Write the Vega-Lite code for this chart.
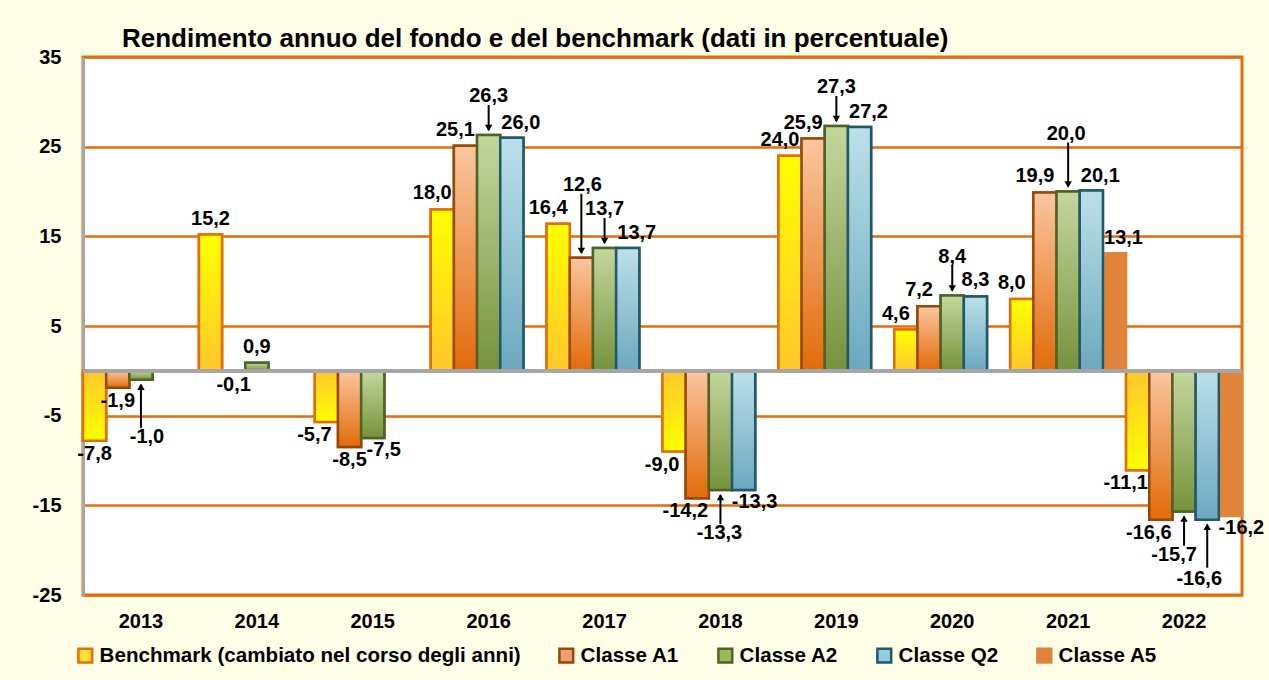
{
  "$schema": "https://vega.github.io/schema/vega-lite/v6.json",
  "width": 1159,
  "height": 538,
  "autosize": "none",
  "padding": {"left": 83, "top": 57, "right": 27, "bottom": 85},
  "background": "#FFFEE6",
  "config": {
    "font": "Liberation Sans",
    "view": {"stroke": "#E46C0A", "strokeWidth": 3, "fill": "white"},
    "locale": {"number": {"decimal": ",", "thousands": ".", "grouping": [3], "currency": ["€", ""], "minus": "-"}}
  },
  "title": {"text": "Rendimento annuo del fondo e del benchmark (dati in percentuale)", "anchor": "start", "frame": "group", "dx": 39, "offset": -5, "fontSize": 26, "fontWeight": "bold", "color": "black", "font": "Liberation Sans"},
  "data": {"values": [
    {"anno": "2013", "serie": "Benchmark (cambiato nel corso degli anni)", "valore": -7.8},
    {"anno": "2013", "serie": "Classe A1", "valore": -1.9},
    {"anno": "2013", "serie": "Classe A2", "valore": -1.0},
    {"anno": "2014", "serie": "Benchmark (cambiato nel corso degli anni)", "valore": 15.2},
    {"anno": "2014", "serie": "Classe A1", "valore": -0.1},
    {"anno": "2014", "serie": "Classe A2", "valore": 0.9},
    {"anno": "2015", "serie": "Benchmark (cambiato nel corso degli anni)", "valore": -5.7},
    {"anno": "2015", "serie": "Classe A1", "valore": -8.5},
    {"anno": "2015", "serie": "Classe A2", "valore": -7.5},
    {"anno": "2016", "serie": "Benchmark (cambiato nel corso degli anni)", "valore": 18.0},
    {"anno": "2016", "serie": "Classe A1", "valore": 25.1},
    {"anno": "2016", "serie": "Classe A2", "valore": 26.3},
    {"anno": "2016", "serie": "Classe Q2", "valore": 26.0},
    {"anno": "2017", "serie": "Benchmark (cambiato nel corso degli anni)", "valore": 16.4},
    {"anno": "2017", "serie": "Classe A1", "valore": 12.6},
    {"anno": "2017", "serie": "Classe A2", "valore": 13.7},
    {"anno": "2017", "serie": "Classe Q2", "valore": 13.7},
    {"anno": "2018", "serie": "Benchmark (cambiato nel corso degli anni)", "valore": -9.0},
    {"anno": "2018", "serie": "Classe A1", "valore": -14.2},
    {"anno": "2018", "serie": "Classe A2", "valore": -13.3},
    {"anno": "2018", "serie": "Classe Q2", "valore": -13.3},
    {"anno": "2019", "serie": "Benchmark (cambiato nel corso degli anni)", "valore": 24.0},
    {"anno": "2019", "serie": "Classe A1", "valore": 25.9},
    {"anno": "2019", "serie": "Classe A2", "valore": 27.3},
    {"anno": "2019", "serie": "Classe Q2", "valore": 27.2},
    {"anno": "2020", "serie": "Benchmark (cambiato nel corso degli anni)", "valore": 4.6},
    {"anno": "2020", "serie": "Classe A1", "valore": 7.2},
    {"anno": "2020", "serie": "Classe A2", "valore": 8.4},
    {"anno": "2020", "serie": "Classe Q2", "valore": 8.3},
    {"anno": "2021", "serie": "Benchmark (cambiato nel corso degli anni)", "valore": 8.0},
    {"anno": "2021", "serie": "Classe A1", "valore": 19.9},
    {"anno": "2021", "serie": "Classe A2", "valore": 20.0},
    {"anno": "2021", "serie": "Classe Q2", "valore": 20.1},
    {"anno": "2021", "serie": "Classe A5", "valore": 13.1},
    {"anno": "2022", "serie": "Benchmark (cambiato nel corso degli anni)", "valore": -11.1},
    {"anno": "2022", "serie": "Classe A1", "valore": -16.6},
    {"anno": "2022", "serie": "Classe A2", "valore": -15.7},
    {"anno": "2022", "serie": "Classe Q2", "valore": -16.6},
    {"anno": "2022", "serie": "Classe A5", "valore": -16.2}
  ]},
  "layer": [
    {
      "encoding": {
        "x": {"field": "anno", "type": "nominal", "title": null, "scale": {"paddingInner": 0, "paddingOuter": 0}, "axis": {"labelAngle": 0, "domain": false, "ticks": false, "grid": false, "labelPadding": 16, "labelFontSize": 20, "labelFontWeight": "bold", "labelColor": "black"}},
        "xOffset": {"field": "serie", "type": "nominal", "scale": {"domain": ["Benchmark (cambiato nel corso degli anni)", "Classe A1", "Classe A2", "Classe Q2", "Classe A5"], "paddingInner": 0, "paddingOuter": 0}},
        "y": {"field": "valore", "type": "quantitative", "title": null, "scale": {"domain": [-25, 35], "nice": false, "zero": false}, "axis": {"values": [-25, -15, -5, 5, 15, 25, 35], "grid": true, "gridColor": "#E46C0A", "gridWidth": 2.5, "ticks": false, "domainColor": "#A6A6A6", "domainWidth": 3, "labelPadding": 22, "labelFontSize": 20, "labelFontWeight": "bold", "labelColor": "black"}}
      },
      "layer": [
        {
          "mark": {"type": "bar", "strokeWidth": 2.5},
          "encoding": {
            "fill": {"field": "serie", "type": "nominal", "scale": {"domain": ["Benchmark (cambiato nel corso degli anni)", "Classe A1", "Classe A2", "Classe Q2", "Classe A5"], "range": ["#FFE033", "#F0A070", "#9BBB59", "#93CDDD", "#E0843C"]}, "legend": {"orient": "none", "legendX": -8, "legendY": 588, "direction": "horizontal", "title": null, "labelFontSize": 20.6, "labelFontWeight": "bold", "labelColor": "black", "labelLimit": 600, "symbolType": "square", "symbolSize": 190, "symbolStrokeWidth": 2.5, "columnPadding": 33, "labelOffset": 4, "padding": 0}},
            "stroke": {"field": "serie", "type": "nominal", "scale": {"domain": ["Benchmark (cambiato nel corso degli anni)", "Classe A1", "Classe A2", "Classe Q2", "Classe A5"], "range": ["#E46C0A", "#984807", "#4F6228", "#215968", "#E0843C"]}}
          }
        },
        {
          "transform": [{"filter": "datum.serie == 'Benchmark (cambiato nel corso degli anni)' && datum.valore >= 0"}],
          "mark": {"type": "bar", "strokeWidth": 2.5, "stroke": "#E46C0A", "fill": {"gradient": "linear", "x1": 0, "y1": 0, "x2": 0, "y2": 1, "stops": [{"offset": 0, "color": "#FFFF00"}, {"offset": 1, "color": "#FFC72C"}]}}
        },
        {
          "transform": [{"filter": "datum.serie == 'Benchmark (cambiato nel corso degli anni)' && datum.valore < 0"}],
          "mark": {"type": "bar", "strokeWidth": 2.5, "stroke": "#E46C0A", "fill": {"gradient": "linear", "x1": 0, "y1": 0, "x2": 0, "y2": 1, "stops": [{"offset": 0, "color": "#FFC72C"}, {"offset": 1, "color": "#FFFF00"}]}}
        },
        {
          "transform": [{"filter": "datum.serie == 'Classe A1'"}],
          "mark": {"type": "bar", "strokeWidth": 2.5, "stroke": "#984807", "fill": {"gradient": "linear", "x1": 0, "y1": 0, "x2": 0, "y2": 1, "stops": [{"offset": 0, "color": "#FAC6A0"}, {"offset": 1, "color": "#E26B0A"}]}}
        },
        {
          "transform": [{"filter": "datum.serie == 'Classe A2'"}],
          "mark": {"type": "bar", "strokeWidth": 2.5, "stroke": "#4F6228", "fill": {"gradient": "linear", "x1": 0, "y1": 0, "x2": 0, "y2": 1, "stops": [{"offset": 0, "color": "#C4D79E"}, {"offset": 1, "color": "#76923C"}]}}
        },
        {
          "transform": [{"filter": "datum.serie == 'Classe Q2'"}],
          "mark": {"type": "bar", "strokeWidth": 2.5, "stroke": "#215968", "fill": {"gradient": "linear", "x1": 0, "y1": 0, "x2": 0, "y2": 1, "stops": [{"offset": 0, "color": "#BCE0EA"}, {"offset": 1, "color": "#6CA8BF"}]}}
        }
      ]
    },
    {
      "mark": {"type": "rule", "color": "#A6A6A6", "strokeWidth": 3},
      "encoding": {"y": {"datum": 0}}
    },
    {
      "encoding": {
        "x": {"field": "anno", "type": "nominal"},
        "xOffset": {"field": "serie", "type": "nominal"},
        "y": {"field": "valore", "type": "quantitative"},
        "text": {"field": "valore", "type": "quantitative", "format": ".1f"}
      },
      "layer": [
        {"transform": [{"filter": "indexof(['2014|B','2014|A2','2020|Q2'], datum.anno + '|' + (datum.serie == 'Benchmark (cambiato nel corso degli anni)' ? 'B' : slice(datum.serie, 7))) >= 0"}],
         "mark": {"type": "text", "fontSize": 20, "fontWeight": "bold", "color": "black", "baseline": "middle", "dx": 0, "dy": -16}},
        {"transform": [{"filter": "indexof(['2016|B','2016|A1','2017|B','2019|B','2019|A1','2020|B','2020|A1','2021|B','2021|A1'], datum.anno + '|' + (datum.serie == 'Benchmark (cambiato nel corso degli anni)' ? 'B' : slice(datum.serie, 7))) >= 0"}],
         "mark": {"type": "text", "fontSize": 20, "fontWeight": "bold", "color": "black", "baseline": "middle", "dx": -10, "dy": -16}},
        {"transform": [{"filter": "indexof(['2016|Q2','2017|Q2','2019|Q2','2021|Q2','2021|A5'], datum.anno + '|' + (datum.serie == 'Benchmark (cambiato nel corso degli anni)' ? 'B' : slice(datum.serie, 7))) >= 0"}],
         "mark": {"type": "text", "fontSize": 20, "fontWeight": "bold", "color": "black", "baseline": "middle", "dx": 9, "dy": -15}},
        {"transform": [{"filter": "indexof(['2013|B','2013|A1','2014|A1','2015|A1'], datum.anno + '|' + (datum.serie == 'Benchmark (cambiato nel corso degli anni)' ? 'B' : slice(datum.serie, 7))) >= 0"}],
         "mark": {"type": "text", "fontSize": 20, "fontWeight": "bold", "color": "black", "baseline": "middle", "dx": 0, "dy": 13}},
        {"transform": [{"filter": "indexof(['2015|B','2018|B','2018|A1','2022|B','2022|A1'], datum.anno + '|' + (datum.serie == 'Benchmark (cambiato nel corso degli anni)' ? 'B' : slice(datum.serie, 7))) >= 0"}],
         "mark": {"type": "text", "fontSize": 20, "fontWeight": "bold", "color": "black", "baseline": "middle", "dx": -12, "dy": 13}},
        {"transform": [{"filter": "indexof(['2015|A2','2018|Q2','2022|A5'], datum.anno + '|' + (datum.serie == 'Benchmark (cambiato nel corso degli anni)' ? 'B' : slice(datum.serie, 7))) >= 0"}],
         "mark": {"type": "text", "fontSize": 20, "fontWeight": "bold", "color": "black", "baseline": "middle", "dx": 11, "dy": 12}},
        {"transform": [{"filter": "indexof(['2016|A2','2017|A2','2019|A2','2020|A2'], datum.anno + '|' + (datum.serie == 'Benchmark (cambiato nel corso degli anni)' ? 'B' : slice(datum.serie, 7))) >= 0"}],
         "mark": {"type": "text", "fontSize": 20, "fontWeight": "bold", "color": "black", "baseline": "middle", "dx": 0, "dy": -39}},
        {"transform": [{"filter": "indexof(['2017|A1'], datum.anno + '|' + (datum.serie == 'Benchmark (cambiato nel corso degli anni)' ? 'B' : slice(datum.serie, 7))) >= 0"}],
         "mark": {"type": "text", "fontSize": 20, "fontWeight": "bold", "color": "black", "baseline": "middle", "dx": 1, "dy": -73}},
        {"transform": [{"filter": "indexof(['2021|A2'], datum.anno + '|' + (datum.serie == 'Benchmark (cambiato nel corso degli anni)' ? 'B' : slice(datum.serie, 7))) >= 0"}],
         "mark": {"type": "text", "fontSize": 20, "fontWeight": "bold", "color": "black", "baseline": "middle", "dx": -2, "dy": -58}},
        {"transform": [{"filter": "indexof(['2018|A2'], datum.anno + '|' + (datum.serie == 'Benchmark (cambiato nel corso degli anni)' ? 'B' : slice(datum.serie, 7))) >= 0"}],
         "mark": {"type": "text", "fontSize": 20, "fontWeight": "bold", "color": "black", "baseline": "middle", "dx": -1, "dy": 43}},
        {"transform": [{"filter": "indexof(['2022|A2'], datum.anno + '|' + (datum.serie == 'Benchmark (cambiato nel corso degli anni)' ? 'B' : slice(datum.serie, 7))) >= 0"}],
         "mark": {"type": "text", "fontSize": 20, "fontWeight": "bold", "color": "black", "baseline": "middle", "dx": -10, "dy": 43}},
        {"transform": [{"filter": "indexof(['2013|A2'], datum.anno + '|' + (datum.serie == 'Benchmark (cambiato nel corso degli anni)' ? 'B' : slice(datum.serie, 7))) >= 0"}],
         "mark": {"type": "text", "fontSize": 20, "fontWeight": "bold", "color": "black", "baseline": "middle", "dx": 6, "dy": 57}},
        {"transform": [{"filter": "indexof(['2022|Q2'], datum.anno + '|' + (datum.serie == 'Benchmark (cambiato nel corso degli anni)' ? 'B' : slice(datum.serie, 7))) >= 0"}],
         "mark": {"type": "text", "fontSize": 20, "fontWeight": "bold", "color": "black", "baseline": "middle", "dx": -8, "dy": 59}},
        {"transform": [{"filter": "indexof(['2016|A2','2017|A2','2019|A2','2020|A2'], datum.anno + '|' + (datum.serie == 'Benchmark (cambiato nel corso degli anni)' ? 'B' : slice(datum.serie, 7))) >= 0"}],
         "mark": {"type": "rule", "color": "black", "strokeWidth": 2, "yOffset": -5, "y2Offset": -30},
         "encoding": {"y2": {"field": "valore"}, "text": null}},
        {"transform": [{"filter": "indexof(['2017|A1'], datum.anno + '|' + (datum.serie == 'Benchmark (cambiato nel corso degli anni)' ? 'B' : slice(datum.serie, 7))) >= 0"}],
         "mark": {"type": "rule", "color": "black", "strokeWidth": 2, "yOffset": -5, "y2Offset": -64},
         "encoding": {"y2": {"field": "valore"}, "text": null}},
        {"transform": [{"filter": "indexof(['2021|A2'], datum.anno + '|' + (datum.serie == 'Benchmark (cambiato nel corso degli anni)' ? 'B' : slice(datum.serie, 7))) >= 0"}],
         "mark": {"type": "rule", "color": "black", "strokeWidth": 2, "yOffset": -5, "y2Offset": -49},
         "encoding": {"y2": {"field": "valore"}, "text": null}},
        {"transform": [{"filter": "indexof(['2018|A2','2022|A2'], datum.anno + '|' + (datum.serie == 'Benchmark (cambiato nel corso degli anni)' ? 'B' : slice(datum.serie, 7))) >= 0"}],
         "mark": {"type": "rule", "color": "black", "strokeWidth": 2, "yOffset": 5, "y2Offset": 34},
         "encoding": {"y2": {"field": "valore"}, "text": null}},
        {"transform": [{"filter": "indexof(['2013|A2','2022|Q2'], datum.anno + '|' + (datum.serie == 'Benchmark (cambiato nel corso degli anni)' ? 'B' : slice(datum.serie, 7))) >= 0"}],
         "mark": {"type": "rule", "color": "black", "strokeWidth": 2, "yOffset": 5, "y2Offset": 48},
         "encoding": {"y2": {"field": "valore"}, "text": null}},
        {"transform": [{"filter": "indexof(['2016|A2','2017|A2','2019|A2','2020|A2','2017|A1','2021|A2'], datum.anno + '|' + (datum.serie == 'Benchmark (cambiato nel corso degli anni)' ? 'B' : slice(datum.serie, 7))) >= 0"}],
         "mark": {"type": "point", "shape": "triangle-down", "filled": true, "size": 55, "color": "black", "opacity": 1, "yOffset": -7},
         "encoding": {"text": null}},
        {"transform": [{"filter": "indexof(['2018|A2','2022|A2','2013|A2','2022|Q2'], datum.anno + '|' + (datum.serie == 'Benchmark (cambiato nel corso degli anni)' ? 'B' : slice(datum.serie, 7))) >= 0"}],
         "mark": {"type": "point", "shape": "triangle-up", "filled": true, "size": 55, "color": "black", "opacity": 1, "yOffset": 7},
         "encoding": {"text": null}}
      ]
    }
  ]
}
